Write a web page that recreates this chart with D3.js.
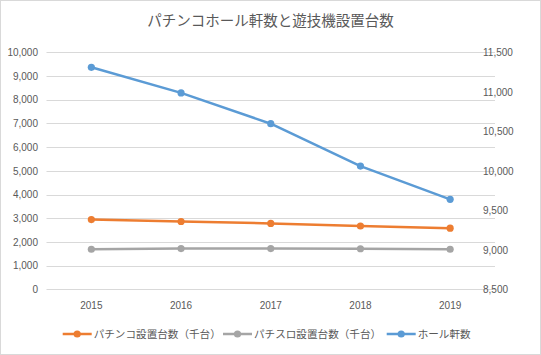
<!DOCTYPE html>
<html><head><meta charset="utf-8">
<script src="https://cdn.jsdelivr.net/npm/d3@7"></script>
<style>
html,body{margin:0;padding:0;background:#fff;}
svg{display:block;}
</style></head>
<body>
<svg id="chart" width="541" height="355"></svg>
<script>
const title = "パチンコホール軒数と遊技機設置台数";
const years = ["2015","2016","2017","2018","2019"];
const pachinko = [2940, 2860, 2780, 2670, 2580];
const pachislot = [1690, 1720, 1720, 1710, 1690];
const halls = [11310, 10986, 10596, 10060, 9639];
const leftTicks = [0,1000,2000,3000,4000,5000,6000,7000,8000,9000,10000];
const rightTicks = [8500,9000,9500,10000,10500,11000,11500];
const seriesNames = ["パチンコ設置台数（千台）","パチスロ設置台数（千台）","ホール軒数"];
const colors = ["#ED7D31","#A5A5A5","#5B9BD5"];

const svg = d3.select("#chart");
const W = 541, H = 355;
const font = "'Noto Sans CJK JP', 'Liberation Sans', sans-serif";
const txt = "#595959";

svg.append("rect").attr("x",0.5).attr("y",0.5).attr("width",W-1).attr("height",H-1)
  .attr("fill","#fff").attr("stroke","#d9d9d9");

svg.append("text").attr("x",270.5).attr("y",26).attr("text-anchor","middle")
  .attr("font-family",font).attr("font-size",14.5).attr("fill",txt).text(title);

const x = d3.scaleBand().domain(years).range([46.5,495]);
const yL = d3.scaleLinear().domain([0,10000]).range([289.3,52.3]);
const yR = d3.scaleLinear().domain([8500,11500]).range([289.3,52.3]);

// gridlines
svg.append("g").selectAll("line").data(leftTicks).join("line")
  .attr("x1",46.5).attr("x2",495).attr("y1",d=>Math.round(yL(d))+0.5).attr("y2",d=>Math.round(yL(d))+0.5)
  .attr("stroke","#d9d9d9").attr("stroke-width",1);

const fmt = d3.format(",");
const axL = svg.append("g").attr("transform","translate(40,0)")
  .call(d3.axisLeft(yL).tickValues(leftTicks).tickFormat(fmt).tickSize(0).tickPadding(0));
const axR = svg.append("g").attr("transform","translate(483,0)")
  .call(d3.axisRight(yR).tickValues(rightTicks).tickFormat(fmt).tickSize(0).tickPadding(0));
const axX = svg.append("g").attr("transform","translate(0,301.5)")
  .call(d3.axisBottom(x).tickSize(0).tickPadding(0));
[axL,axR,axX].forEach(a=>{
  a.select(".domain").remove();
  a.selectAll("text").attr("font-family","'Liberation Sans', Arial, sans-serif")
    .attr("font-size",10).attr("fill",txt);
});
axL.selectAll("text").attr("x",-2);
axX.selectAll("text").attr("dy","0.71em");

const cx = d=>x(d)+x.bandwidth()/2;
const data = [
  {vals:pachinko, y:yL, c:colors[0]},
  {vals:pachislot, y:yL, c:colors[1]},
  {vals:halls, y:yR, c:colors[2]}
];
data.forEach(s=>{
  const line = d3.line().x((d,i)=>cx(years[i])).y(d=>s.y(d));
  svg.append("path").datum(s.vals).attr("d",line).attr("fill","none")
    .attr("stroke",s.c).attr("stroke-width",2.5).attr("stroke-linejoin","round").attr("stroke-linecap","round");
  svg.append("g").selectAll("circle").data(s.vals).join("circle")
    .attr("cx",(d,i)=>cx(years[i])).attr("cy",d=>s.y(d)).attr("r",3.6).attr("fill",s.c);
});

// legend
const legX = [62.7, 223, 386.7];
const legY = 334;
seriesNames.forEach((n,i)=>{
  const g = svg.append("g");
  g.append("line").attr("x1",legX[i]).attr("x2",legX[i]+29).attr("y1",legY).attr("y2",legY)
    .attr("stroke",colors[i]).attr("stroke-width",2.5);
  g.append("circle").attr("cx",legX[i]+14.5).attr("cy",legY).attr("r",3.6).attr("fill",colors[i]);
  g.append("text").attr("x",legX[i]+31).attr("y",legY).attr("dy","0.36em")
    .attr("font-family",font).attr("font-size",10.6).attr("fill",txt).text(n);
});
</script>
</body></html>
